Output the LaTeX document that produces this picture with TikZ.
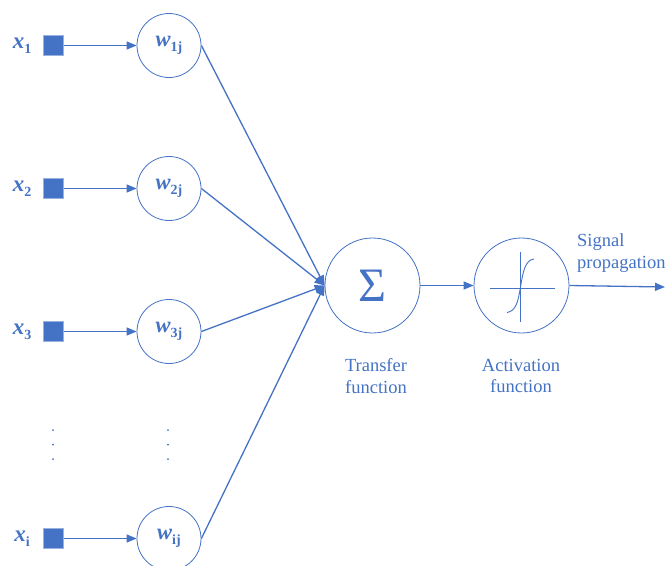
\documentclass[tikz,border=0pt]{standalone}
\usepackage{fontspec}
\setmainfont{Liberation Serif}
\usetikzlibrary{arrows.meta}
\definecolor{nblue}{HTML}{4472C4}
\newcommand\lowidx[1]{\raisebox{-0.45ex}{\fontsize{14}{14}\selectfont\bfseries #1}}
\newcommand\xin[1]{{\bfseries\itshape x}\lowidx{#1}}
\newcommand\wgt[1]{{\bfseries\itshape w}\lowidx{#1}}

\begin{document}
\begin{tikzpicture}[x=1pt,y=-1pt,
  wire/.style={draw=nblue, line width=1.3pt, -{Triangle[length=10pt,width=8pt]}},
  inbox/.style={draw=nblue!55!white, fill=nblue, line width=0.6pt, minimum size=20pt, inner sep=0pt},
  wnode/.style={circle, draw=nblue, line width=0.8pt, fill=white, minimum size=64pt, inner sep=0pt, text=nblue, font=\fontsize{22.5}{22.5}\selectfont},
  bignode/.style={circle, draw=nblue, line width=0.8pt, fill=white, minimum size=95pt, inner sep=0pt, text=nblue},
  inlab/.style={text=nblue, font=\fontsize{23}{23}\selectfont, inner sep=0pt},
  caption/.style={text=nblue, font=\fontsize{18.5}{21.5}\selectfont, align=center, inner sep=0pt},
  vdot/.style={circle, fill=nblue, minimum size=2pt, inner sep=0pt},
  icon/.style={draw=nblue, line width=0.9pt}
]
\useasboundingbox (0,0) rectangle (666,565);

% inputs
\node[inbox] (s1) at (53.5,45.5) {};
\node[inbox] (s2) at (53.5,188.5) {};
\node[inbox] (s3) at (53.5,331.5) {};
\node[inbox] (si) at (53.5,538.5) {};

\node[inlab] (l1) at (22,46) {\xin{1}};
\node[inlab] (l2) at (22,189) {\xin{2}};
\node[inlab] (l3) at (22,332) {\xin{3}};
\node[inlab] (li) at (22,539) {\xin{i}};

% weights
\node[wnode] (w1) at (169,45.5) {\wgt{1j}};
\node[wnode] (w2) at (169,188.5) {\wgt{2j}};
\node[wnode] (w3) at (169,331.5) {\wgt{3j}};
\node[wnode] (wi) at (169,538.5) {\wgt{ij}};

% vertical ellipses
\node[vdot] (a1) at (53,430) {};
\node[vdot] (a2) at (53,444.5) {};
\node[vdot] (a3) at (53,459) {};
\node[vdot] (b1) at (168,430) {};
\node[vdot] (b2) at (168,444.5) {};
\node[vdot] (b3) at (168,459) {};

% summation and activation
\node[bignode, font=\fontsize{48}{48}\selectfont] (sum) at (372.5,285.5) {Σ};
\node[bignode] (act) at (521.5,285.5) {};

\node[caption] (tf) at (376,376) {Transfer\\function};
\node[caption] (af) at (521,376) {Activation\\function};
\node[caption, align=left, anchor=west] (sp) at (577,253) {Signal\\propagation};

\coordinate (out) at (665,287);

% connectors
\foreach \s/\w in {s1/w1, s2/w2, s3/w3, si/wi}
  \draw[wire] (\s.east) -- (\w.west);
\foreach \w in {w1, w2, w3, wi}
  \draw[wire] (\w.east) -- (sum.west);
\draw[wire] (sum.east) -- (act.west);
\draw[wire] (act.east) -- (out);

% sigmoid symbol
\draw[icon] (490,288) -- (555,288);
\draw[icon] (520.5,252) -- (520.5,322);
\draw[icon] (507,312.5) .. controls (516,311) and (518,302) .. (520.5,287)
  .. controls (523,272) and (525,260) .. (534,259);
\end{tikzpicture}
\end{document}
